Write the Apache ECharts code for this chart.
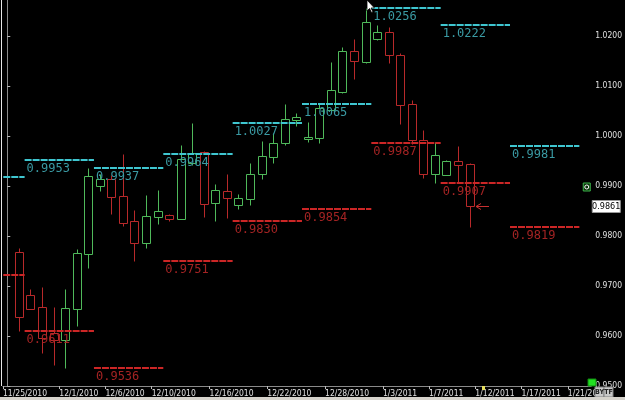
<!DOCTYPE html>
<html><head><meta charset="utf-8">
<script src="https://cdn.jsdelivr.net/npm/echarts@6/dist/echarts.min.js"></script>
<style>html,body{margin:0;padding:0;background:#000;}#c{width:625px;height:400px;}</style>
</head><body><div id="c"></div>
<script>
// ---------- data ----------
const dates = ['11/25/2010','11/26/2010','11/28/2010','11/29/2010','11/30/2010','12/1/2010','12/2/2010','12/3/2010',
 '12/5/2010','12/6/2010','12/7/2010','12/8/2010','12/9/2010','12/10/2010',
 '12/12/2010','12/13/2010','12/14/2010','12/15/2010','12/16/2010','12/17/2010',
 '12/19/2010','12/20/2010','12/21/2010','12/22/2010','12/23/2010','12/24/2010',
 '12/26/2010','12/27/2010','12/28/2010','12/29/2010','12/30/2010','12/31/2010',
 '1/2/2011','1/3/2011','1/4/2011','1/5/2011','1/6/2011','1/7/2011',
 '1/9/2011','1/10/2011','1/11/2011','1/12/2011','1/13/2011','1/14/2011',
 '1/16/2011','1/17/2011','1/18/2011','1/19/2011','1/20/2011','1/21/2011','1/23/2011'];
const candleDates = dates.slice(1, 41);
const openV  = [0.9769,0.9683,0.9659,0.9607,0.9593,0.9655,0.9765,0.9901,0.9915,0.9880,0.9830,0.9787,0.9839,
  0.9843,0.9835,0.9947,0.9969,0.9867,0.9890,0.9863,0.9875,0.9924,0.9959,0.9987,1.0032,
  0.9995,0.9996,1.0052,1.0089,1.0170,1.0149,1.0193,1.0209,1.0163,1.0065,0.9993,0.9925,0.9923,0.9950,0.9945];
const closeV = [0.9639,0.9655,0.9596,0.9593,0.9657,0.9767,0.9920,0.9914,0.9879,0.9827,0.9787,0.9840,0.9850,
  0.9835,0.9954,0.9967,0.9865,0.9892,0.9877,0.9877,0.9924,0.9961,0.9987,1.0034,1.0039,
  0.9999,1.0056,1.0091,1.0170,1.0151,1.0229,1.0209,1.0162,1.0063,0.9992,0.9925,0.9962,0.9950,0.9942,0.9861];
const lowV   = [0.9611,0.9654,0.9566,0.9542,0.9536,0.9620,0.9737,0.9891,0.9845,0.9820,0.9751,0.9777,0.9825,
  0.9830,0.9834,0.9942,0.9839,0.9830,0.9837,0.9854,0.9862,0.9915,0.9947,0.9983,1.0020,
  0.9989,0.9987,1.0051,1.0087,1.0114,1.0147,1.0192,1.0146,1.0024,0.9984,0.9917,0.9907,0.9922,0.9907,0.9819];
const highV  = [0.9777,0.9695,0.9699,0.9659,0.9695,0.9775,0.9937,0.9924,0.9922,0.9964,0.9852,0.9882,0.9893,
  0.9844,0.9982,1.0027,0.9970,0.9905,0.9924,0.9885,0.9947,0.9990,1.0007,1.0065,1.0047,
  1.0029,1.0065,1.0149,1.0179,1.0193,1.0256,1.0222,1.0218,1.0167,1.0072,1.0011,0.9989,0.9953,0.9981,0.9946];
const tickDates = ['11/25/2010','12/1/2010','12/6/2010','12/10/2010','12/16/2010','12/22/2010','12/28/2010',
  '1/3/2011','1/7/2011','1/12/2011','1/17/2011','1/21/2011'];
const yTicks = [0.95,0.96,0.97,0.98,0.99,1.00,1.01,1.02];
const weekStart = [-4.5,1.5,7.5,13.5,19.5,25.5,31.5,37.5,43.5];
const weekHigh = [0.9918,0.9953,0.9937,0.9964,1.0027,1.0065,1.0256,1.0222,0.9981];
const weekLow  = [0.9722,0.9611,0.9536,0.9751,0.9830,0.9854,0.9987,0.9907,0.9819];
const lastPrice = 0.9861;

// ---------- chart ----------
const chart = echarts.init(document.getElementById('c'), null, {renderer:'canvas'});
const axFont = '"Liberation Sans Narrow","DejaVu Sans Condensed","Liberation Sans",sans-serif';
const X_MIN = -0.37;
const tickPos = tickDates.map(d => Math.max(X_MIN, dates.indexOf(d) - 0.5));
const UP = '#4fb95a', DOWN = '#b8292a';

function levelSeries(vals, lineColor, textColor) {
  return {
    type: 'custom', clip: true, silent: true, z: 5,
    data: weekStart.map((s, j) => [s, s + 6, vals[j]]),
    encode: {x: [0, 1], y: 2},
    renderItem: function (params, api) {
      const a = api.coord([api.value(0), api.value(2)]);
      const b = api.coord([api.value(1), api.value(2)]);
      const y = Math.round(a[1]);
      return {type: 'group', children: [
        {type: 'line', shape: {x1: a[0], y1: y, x2: b[0], y2: y},
         style: {stroke: lineColor, lineWidth: 2, lineDash: [7, 1]}},
        {type: 'text', x: a[0] + 2, y: y + 3,
         style: {text: api.value(2).toFixed(4), fill: textColor,
                 font: '12px "DejaVu Sans Mono", monospace', align: 'left', verticalAlign: 'top'}}
      ]};
    }
  };
}

const lastIdx = dates.indexOf(candleDates[candleDates.length - 1]);

chart.setOption({
  backgroundColor: '#000',
  animation: false,
  grid: {left: 1, right: 28.5, top: 0, bottom: 14},
  xAxis: {
    type: 'value', min: X_MIN, max: 50.53,
    splitLine: {show: false},
    axisLine: {show: true, lineStyle: {color: '#8a8a8a'}},
    axisTick: {show: true, customValues: tickPos, length: 3, lineStyle: {color: '#bbbbbb'}},
    axisLabel: {customValues: tickPos, color: '#e0e0e0', fontSize: 8.5, fontFamily: axFont,
      align: 'left', margin: 3, showMinLabel: true, showMaxLabel: true,
      formatter: v => dates[Math.round(v + 0.5)] || ''}
  },
  yAxis: {
    type: 'value', position: 'right', min: 0.95, max: 1.0272,
    splitLine: {show: false},
    axisLine: {show: true, lineStyle: {color: '#8a8a8a'}},
    axisTick: {show: true, customValues: yTicks, length: 3, lineStyle: {color: '#bbbbbb'}},
    axisLabel: {customValues: yTicks, color: '#e0e0e0', fontSize: 8.5, fontFamily: axFont, margin: 4,
      formatter: v => v.toFixed(4)}
  },
  series: [
    {
      type: 'custom', clip: true, silent: true, z: 3,
      data: candleDates.map((d, j) => [dates.indexOf(d), openV[j], closeV[j], lowV[j], highV[j]]),
      encode: {x: 0, y: [1, 2, 3, 4]},
      renderItem: function (params, api) {
        const cx = Math.round(api.coord([api.value(0), api.value(1)])[0]) + 0.5;
        const yo = api.coord([api.value(0), api.value(1)])[1];
        const yc = api.coord([api.value(0), api.value(2)])[1];
        const yl = Math.round(api.coord([api.value(0), api.value(3)])[1]) + 0.5;
        const yh = Math.round(api.coord([api.value(0), api.value(4)])[1]) + 0.5;
        let top = Math.round(Math.min(yo, yc)) + 0.5;
        let bot = Math.round(Math.max(yo, yc)) + 0.5;
        if (bot - top < 2) bot = top + 2;
        const col = api.value(2) >= api.value(1) ? UP : DOWN;
        return {type: 'group', children: [
          {type: 'line', shape: {x1: cx, y1: yh, x2: cx, y2: top}, style: {stroke: col, lineWidth: 1}},
          {type: 'line', shape: {x1: cx, y1: bot, x2: cx, y2: yl}, style: {stroke: col, lineWidth: 1}},
          {type: 'rect', shape: {x: cx - 4, y: top, width: 8, height: bot - top},
           style: {fill: null, stroke: col, lineWidth: 1}}
        ]};
      }
    },
    levelSeries(weekHigh, '#3fc6d0', '#3a9aa3'),
    levelSeries(weekLow, '#cc2626', '#a32323'),
    {
      type: 'custom', clip: false, silent: true, z: 10,
      data: [[lastIdx, lastPrice]],
      encode: {x: 0, y: 1},
      renderItem: function (params, api) {
        const p = api.coord([api.value(0), api.value(1)]);
        const gx = params.coordSys.x + params.coordSys.width;
        const g99 = api.coord([0, 0.99])[1];
        const tip = Math.round(p[0]) + 6;
        const py = Math.round(p[1]) + 0.5;
        return {type: 'group', children: [
          {type: 'polyline', shape: {points: [[tip + 5, py - 3], [tip, py], [tip + 5, py + 3]]},
           style: {stroke: '#c83030', lineWidth: 1, fill: null}},
          {type: 'line', shape: {x1: tip, y1: py, x2: tip + 13, y2: py}, style: {stroke: '#c83030', lineWidth: 1}},
          {type: 'rect', shape: {x: gx + 1, y: py - 6, width: 28, height: 12},
           style: {fill: '#ffffff', stroke: '#999', lineWidth: 1}},
          {type: 'text', x: gx + 15, y: py,
           style: {text: api.value(1).toFixed(4), fill: '#000', font: '9px ' + axFont, align: 'center', verticalAlign: 'middle'}},
          {type: 'rect', shape: {x: gx - 8, y: g99 - 3, width: 7, height: 8},
           style: {fill: '#0a300a', stroke: '#3cb44b', lineWidth: 1}},
          {type: 'circle', shape: {cx: gx - 4.5, cy: g99 + 1, r: 2}, style: {fill: null, stroke: '#fff', lineWidth: 1}}
        ]};
      }
    }
  ],
  graphic: [
    {type: 'line', shape: {x1: 1.5, y1: 0, x2: 1.5, y2: 386}, style: {stroke: '#e8e8e8', lineWidth: 1}, z: 100},
    {type: 'rect', shape: {x: 588, y: 379, width: 8, height: 7}, style: {fill: '#22e022', stroke: '#118811'}, z: 100},
    {type: 'rect', shape: {x: 482, y: 386, width: 3, height: 4}, style: {fill: '#e8e060'}, z: 100},
    {type: 'rect', shape: {x: 595, y: 387, width: 9, height: 10}, style: {fill: '#c8c8c8', stroke: '#808080'}, z: 100},
    {type: 'text', x: 599.5, y: 392, style: {text: 'BY', fill: '#222', font: 'bold 7px ' + axFont, align: 'center', verticalAlign: 'middle'}, z: 101},
    {type: 'rect', shape: {x: 604, y: 387, width: 9, height: 10}, style: {fill: '#c8c8c8', stroke: '#808080'}, z: 100},
    {type: 'text', x: 608.5, y: 392, style: {text: 'TF', fill: '#222', font: 'bold 7px ' + axFont, align: 'center', verticalAlign: 'middle'}, z: 101},
    {type: 'rect', shape: {x: 0, y: 397, width: 625, height: 3}, style: {fill: '#d6d3cc'}, z: 100},
    {type: 'polygon', shape: {points: [[367, 0], [367, 11], [369.5, 8.5], [371.5, 12.5], [373, 12], [371, 8], [374.5, 8]]},
     style: {fill: '#ffffff', stroke: '#000', lineWidth: 0.8}, z: 100}
  ]
});
</script>
</body></html>
